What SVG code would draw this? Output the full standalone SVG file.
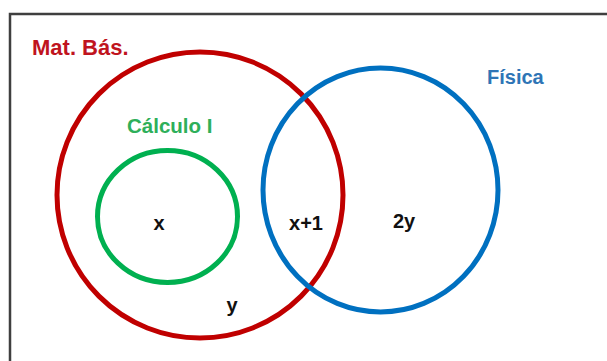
<svg xmlns="http://www.w3.org/2000/svg" width="607" height="361" viewBox="0 0 607 361">
  <style>
    .set { fill: none; stroke-width: 5; }
    .lbl { font-family: "Liberation Sans", Arial, sans-serif; font-weight: bold; }
    .val { font-family: "Liberation Sans", Arial, sans-serif; font-weight: bold; font-size: 20px; fill: #111; text-anchor: middle; }
  </style>
  <rect x="0" y="0" width="607" height="361" fill="#ffffff"/>
  <g id="frame">
    <rect x="10" y="14" width="620" height="370" fill="#ffffff" stroke="#3f3f3f" stroke-width="2.5"/>
  </g>
  <g id="mat-bas">
    <circle class="set" cx="200" cy="195" r="143" stroke="#C00000"/>
    <text class="lbl" x="32" y="55" font-size="22" fill="#C0141E">Mat. Bás.</text>
  </g>
  <g id="fisica">
    <ellipse class="set" cx="380.5" cy="190" rx="117.5" ry="122" stroke="#0070C0"/>
    <text class="lbl" x="487" y="84" font-size="20" fill="#2E75B6">Física</text>
  </g>
  <g id="calculo">
    <ellipse class="set" cx="167.5" cy="216.5" rx="70" ry="66" stroke="#00B050"/>
    <text class="lbl" x="127" y="133" font-size="20.5" fill="#2EAF5A">Cálculo I</text>
  </g>
  <g id="values">
    <text class="val" x="159" y="230">x</text>
    <text class="val" x="306" y="230">x+1</text>
    <text class="val" x="404" y="228">2y</text>
    <text class="val" x="232" y="312">y</text>
  </g>
</svg>
